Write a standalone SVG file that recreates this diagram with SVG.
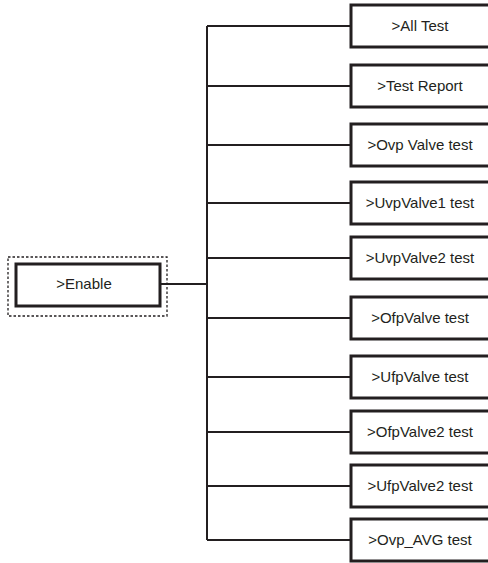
<svg xmlns="http://www.w3.org/2000/svg" width="488" height="563" viewBox="0 0 488 563">
<style>
.bg{fill:#ffffff}
.box{fill:#ffffff;stroke:#231f20;stroke-width:3}
.sel{fill:none;stroke:#231f20;stroke-width:1.3;stroke-dasharray:2.5 2}
.wire{fill:none;stroke:#231f20;stroke-width:2}
.lbl{font-family:"Liberation Sans",Arial,sans-serif;font-size:15px;fill:#231f20;text-anchor:middle}
</style>
<rect class="bg" x="0" y="0" width="488" height="563"/>
<g id="connectors">
<path class="wire" d="M160 284H207"/>
<path class="wire" d="M207 26V540"/>
<path class="wire" d="M207 26H351M207 86H351M207 145H351M207 203H351M207 258H351M207 318H351M207 377H351M207 432H351M207 486H351M207 540H351"/>
</g>
<g id="enable">
<rect class="sel" x="8" y="257" width="159" height="59"/>
<rect class="box" x="16" y="264" width="144" height="42"/>
<text class="lbl" x="84" y="289">&gt;Enable</text>
</g>
<g id="all-test"><rect class="box" x="351" y="5" width="150" height="42"/><text class="lbl" x="420" y="31">&gt;All Test</text></g>
<g id="test-report"><rect class="box" x="351" y="65" width="150" height="42"/><text class="lbl" x="420" y="91">&gt;Test Report</text></g>
<g id="ovp-valve"><rect class="box" x="351" y="124" width="150" height="42"/><text class="lbl" x="420" y="150">&gt;Ovp Valve test</text></g>
<g id="uvp-valve1"><rect class="box" x="351" y="182" width="150" height="42"/><text class="lbl" x="420" y="208">&gt;UvpValve1 test</text></g>
<g id="uvp-valve2"><rect class="box" x="351" y="237" width="150" height="42"/><text class="lbl" x="420" y="263">&gt;UvpValve2 test</text></g>
<g id="ofp-valve"><rect class="box" x="351" y="297" width="150" height="42"/><text class="lbl" x="420" y="323">&gt;OfpValve test</text></g>
<g id="ufp-valve"><rect class="box" x="351" y="356" width="150" height="42"/><text class="lbl" x="420" y="382">&gt;UfpValve test</text></g>
<g id="ofp-valve2"><rect class="box" x="351" y="411" width="150" height="42"/><text class="lbl" x="420" y="437">&gt;OfpValve2 test</text></g>
<g id="ufp-valve2"><rect class="box" x="351" y="465" width="150" height="42"/><text class="lbl" x="420" y="491">&gt;UfpValve2 test</text></g>
<g id="ovp-avg"><rect class="box" x="351" y="519" width="150" height="42"/><text class="lbl" x="420" y="545">&gt;Ovp_AVG test</text></g>
</svg>
